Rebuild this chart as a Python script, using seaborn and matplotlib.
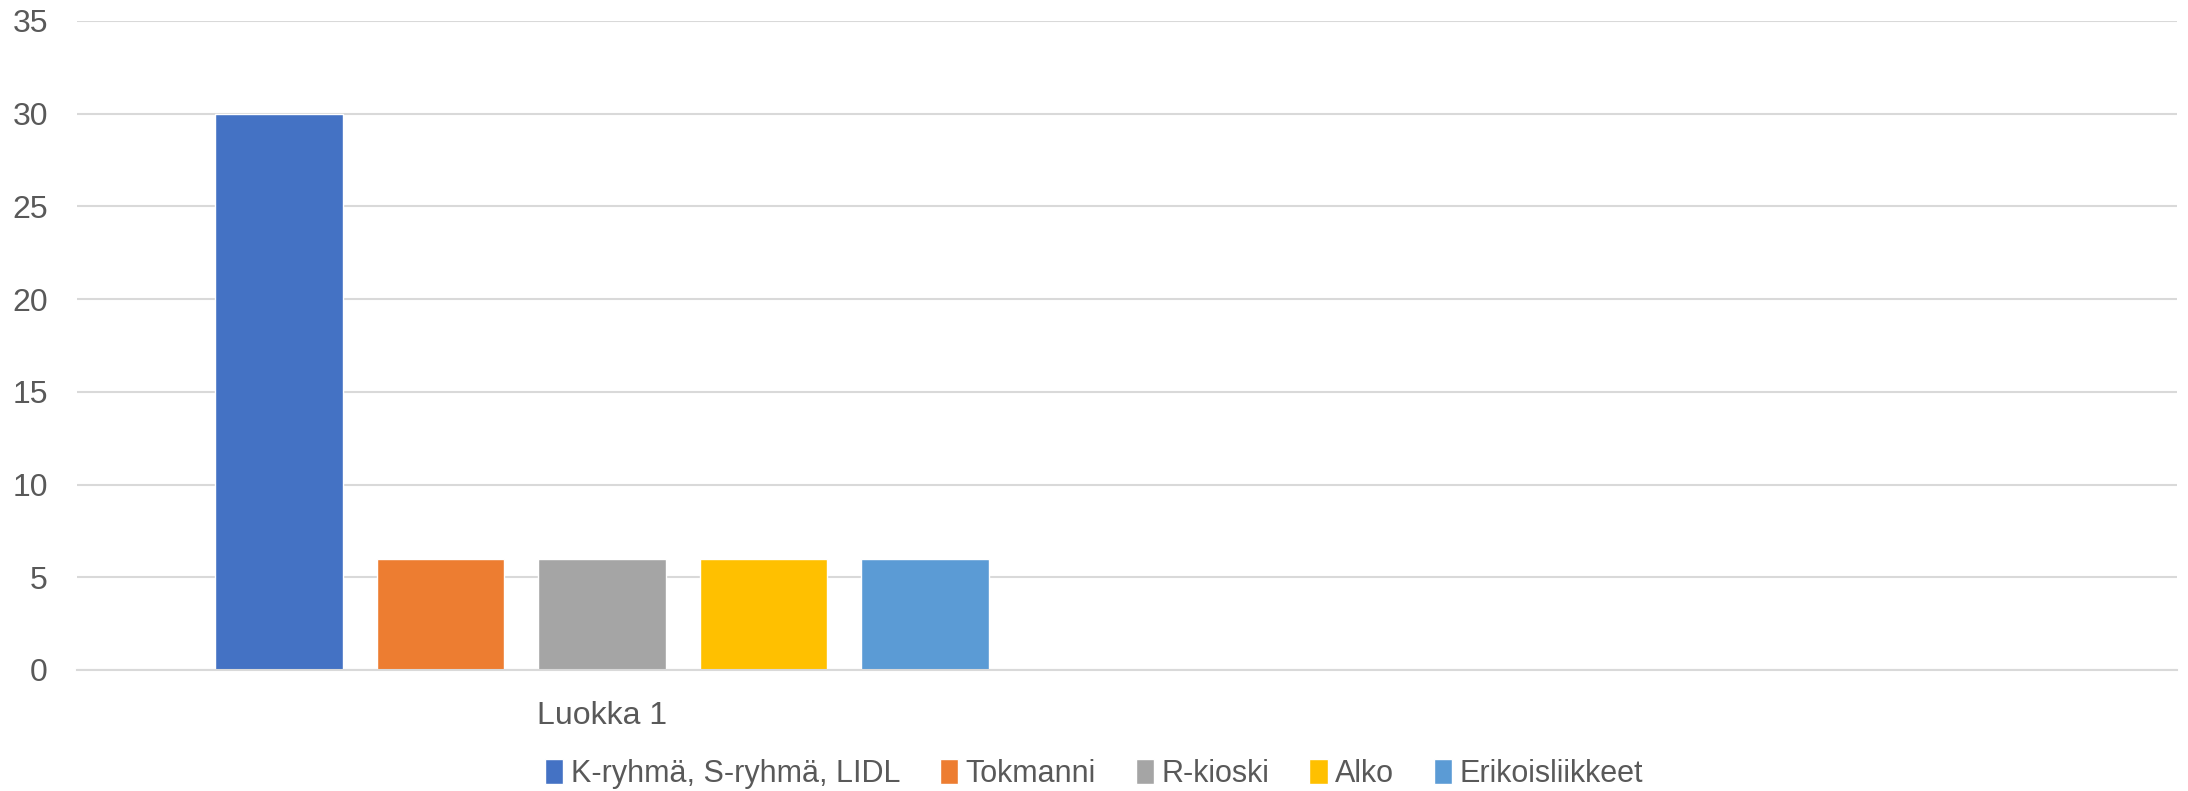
import matplotlib
matplotlib.use("Agg")
import matplotlib.pyplot as plt
import seaborn as sns
import pandas as pd
from matplotlib import font_manager

categories = ["Luokka 1", " "]
series = ["K-ryhmä, S-ryhmä, LIDL", "Tokmanni", "R-kioski", "Alko", "Erikoisliikkeet"]
values = [30, 6, 6, 6, 6]
colors = ["#4472C4", "#ED7D31", "#A5A5A5", "#FFC000", "#5B9BD5"]
yticks = [0, 5, 10, 15, 20, 25, 30, 35]

sns.set_theme(style="white")
names = {f.name for f in font_manager.fontManager.ttflist}
fam = "Liberation Sans Narrow" if "Liberation Sans Narrow" in names else "Liberation Sans"
plt.rcParams["font.family"] = [fam, "DejaVu Sans"]

df = pd.DataFrame({"cat": [categories[0]] * len(series), "series": series, "value": values})

fig = plt.figure(figsize=(21.88, 7.91), dpi=100)
ax = fig.add_axes([0.0352, 0.153, 0.9598, 0.8205])

sns.barplot(data=df, x="cat", y="value", hue="series", order=categories,
            hue_order=series, palette=colors, width=0.769, gap=0.213,
            saturation=1, ax=ax, legend=True)

ax.set_ylim(0, 35)
ax.set_yticks(yticks)
ax.set_xlim(-0.5, 1.5)
ax.yaxis.grid(True, color="#D9D9D9", linewidth=1.5)
ax.set_axisbelow(True)
for s in ["left", "right", "top"]:
    ax.spines[s].set_visible(False)
ax.spines["bottom"].set_color("#D9D9D9")
ax.spines["bottom"].set_linewidth(1.5)
ax.tick_params(axis="y", length=0, pad=21, labelsize=23, labelcolor="#595959")
ax.tick_params(axis="x", length=0, pad=22, labelsize=23, labelcolor="#595959")
ax.set_xlabel("")
ax.set_ylabel("")

h, l = ax.get_legend_handles_labels()
ax.get_legend().remove()
fig.legend(h, l, loc="center", bbox_to_anchor=(0.5, 1 - 774 / 791), ncol=5,
           frameon=False, fontsize=22, labelcolor="#595959",
           handlelength=0.6, handleheight=0.9, handletextpad=0.25, columnspacing=1.3)

fig.savefig("out.png", dpi=100)
